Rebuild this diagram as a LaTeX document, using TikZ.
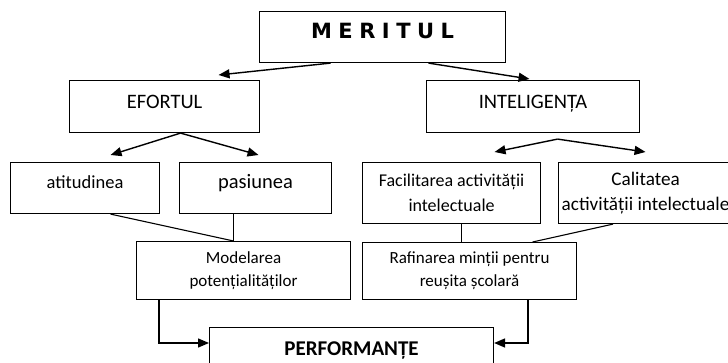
\documentclass[tikz,border=0pt]{standalone}
\usepackage{fontspec}
\setmainfont{Carlito}
\newfontfamily\meritfont{DejaVu Sans}
\usetikzlibrary{arrows.meta,calc}
\newcommand\mgap{\hspace{6.5pt}}
\begin{document}
\begin{tikzpicture}[x=1pt,y=-1pt,
  box/.style={draw=black,line width=1.1pt,anchor=north west,inner sep=0pt,align=center},
  one/.style={text height=14pt,text depth=11pt},
  arr/.style={line width=1.4pt,-{Triangle[length=11pt,width=9pt]}},
  ln/.style={line width=1.1pt}]
\useasboundingbox (0,0) rectangle (728,363);
\clip (0,0) rectangle (728,363);
\node[box,minimum width=246pt,minimum height=51pt,font=\meritfont\bfseries\fontsize{21}{25}\selectfont,text height=15pt,text depth=13pt] (merit) at (259,11) {M\mgap E\mgap R\mgap I\mgap T\mgap U\mgap L};
\node[box,one,minimum width=190pt,minimum height=52pt,font=\fontsize{20.5}{25}\selectfont] (efort) at (69,80) {EFORTUL};
\node[box,one,minimum width=213pt,minimum height=52pt,font=\fontsize{20.5}{25}\selectfont] (intel) at (426,80) {INTELIGENȚA};
\node[box,minimum width=149pt,minimum height=51pt,font=\fontsize{18.5}{25}\selectfont,text height=13pt,text depth=12pt] (atit) at (10,162) {atitudinea};
\node[box,minimum width=152pt,minimum height=51pt,font=\fontsize{20.5}{25}\selectfont,text height=13pt,text depth=12pt] (pasi) at (179,162) {pasiunea};
\node[box,minimum width=178pt,minimum height=61pt,font=\fontsize{18}{25}\selectfont] (facil) at (362,162) {Facilitarea activității\\intelectuale};
\node[box,minimum width=174pt,minimum height=61pt,font=\fontsize{19.2}{25}\selectfont] (calit) at (558,162) {Calitatea\\activității intelectuale};
\node[box,minimum width=214pt,minimum height=58pt,font=\fontsize{17}{23}\selectfont] (model) at (136,241) {Modelarea\\potențialităților};
\node[box,minimum width=214pt,minimum height=57pt,font=\fontsize{17}{23}\selectfont] (rafin) at (362,242) {Rafinarea minții pentru\\reușita școlară};
\node[box,minimum width=284pt,minimum height=56pt,font=\bfseries\fontsize{21}{25}\selectfont,text height=18pt,text depth=18pt] (perf) at (209,327) {PERFORMANȚE};
% arrows from MERITUL
\draw[arr] ([xshift=-52pt]merit.south) -- ([xshift=54pt,yshift=5pt]efort.north);
\draw[arr] ([xshift=46pt]merit.south) -- ([xshift=-3.5pt,yshift=1pt]intel.north);
% arrows from EFORTUL
\draw[arr] ([xshift=16pt]efort.south) -- ([xshift=25.5pt,yshift=7pt]atit.north);
\draw[arr] ([xshift=16pt]efort.south) -- ([xshift=3pt,yshift=7pt]pasi.north);
% arrows from INTELIGENTA
\draw[arr] ([xshift=24.5pt,yshift=-6pt]intel.south) -- ([xshift=43pt,yshift=10pt]facil.north);
\draw[arr] ([xshift=24.5pt,yshift=-6pt]intel.south) -- ([xshift=0pt,yshift=10pt]calit.north);
% lines into Modelarea
\draw[ln] ([xshift=25.5pt]atit.south) -- ([xshift=-10pt]model.north);
\draw[ln] ([xshift=-22pt]pasi.south) -- ([xshift=-10pt]model.north);
% lines into Rafinarea
\draw[ln] ([xshift=10pt]facil.south) -- ([xshift=-8pt]rafin.north);
\draw[ln] ([xshift=-32.5pt]calit.south) -- ([xshift=63pt]rafin.north);
% to PERFORMANTE
\draw[arr] ([xshift=23pt]model.south west) |- ([yshift=-16pt]perf.north west);
\draw[arr] ([xshift=-49pt]rafin.south east) |- ([yshift=-16pt]perf.north east);
\end{tikzpicture}
\end{document}
